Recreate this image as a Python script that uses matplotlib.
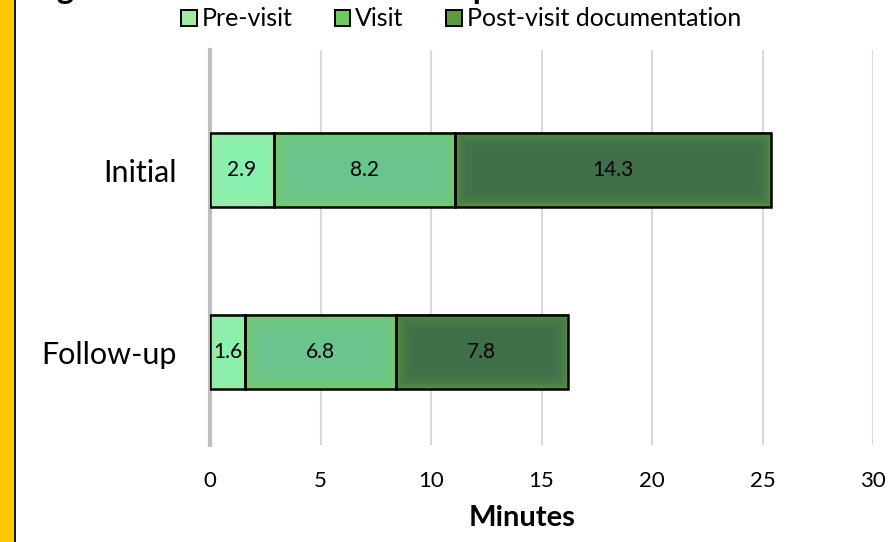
import numpy as np
import matplotlib.pyplot as plt
from matplotlib.colors import to_rgb
from matplotlib.patches import Rectangle, Patch

# Minutes per encounter, stacked by phase
categories = ["Follow-up", "Initial"]
segments = ["Pre-visit", "Visit", "Post-visit documentation"]
pre_visit = [1.6, 2.9]
visit = [6.8, 8.2]
post_visit = [7.8, 14.3]
x_ticks = [0, 5, 10, 15, 20, 25, 30]

# (center colour, edge glow colour, legend swatch colour)
styles = [
    ("#88F2B0", "#A2E8A0", "#A0EBA0"),
    ("#6AC48E", "#78CC58", "#70C860"),
    ("#3F6F4A", "#5C9640", "#5A9A40"),
]

plt.rcParams['font.family'] = ['Lato', 'DejaVu Sans']

W, H = 888, 542
fig = plt.figure(figsize=(W / 100, H / 100), dpi=100)
ax = fig.add_axes([210 / W, 1 - 445 / H, (873 - 210) / W, (445 - 50) / H])
ax.set_xlim(0, 30)
ax.set_ylim(-0.51, 1.66)


def glow_fill(ax, patch, center, edge, glow_px=6.0):
    # fill a bar with a colour that shades towards `edge` near its border
    x0, y0 = patch.get_x(), patch.get_y()
    w, h = patch.get_width(), patch.get_height()
    (px0, py0), (px1, py1) = ax.transData.transform([(x0, y0), (x0 + w, y0 + h)])
    nx = max(int(abs(px1 - px0)), 2)
    ny = max(int(abs(py1 - py0)), 2)
    xs = np.arange(nx) + 0.5
    ys = np.arange(ny) + 0.5
    dx = np.minimum(xs, nx - xs)
    dy = np.minimum(ys, ny - ys)
    d = np.minimum(dx[None, :], dy[:, None])
    t = np.exp(-d / glow_px)[..., None]
    img = np.array(to_rgb(center)) * (1 - t) + np.array(to_rgb(edge)) * t
    ax.imshow(img, extent=(x0, x0 + w, y0, y0 + h), aspect='auto',
              interpolation='bilinear', zorder=2)


ypos = np.arange(len(categories))
left = np.zeros(len(categories))
for values, (center, edge, _) in zip([pre_visit, visit, post_visit], styles):
    bars = ax.barh(ypos, values, left=left, height=0.41, facecolor='none',
                   edgecolor='black', linewidth=1.8, zorder=3)
    for patch, v in zip(bars, values):
        glow_fill(ax, patch, center, edge)
        ax.text(patch.get_x() + v / 2, patch.get_y() + patch.get_height() / 2,
                f"{v:.1f}", ha='center', va='center', fontsize=15,
                color='black', zorder=4)
    left += np.array(values)

ax.set_xlim(0, 30)
ax.set_ylim(-0.51, 1.66)
ax.set_xticks(x_ticks)
ax.set_yticks(ypos)
ax.set_yticklabels(categories)
ax.tick_params(axis='x', length=0, pad=19, labelsize=16)
ax.tick_params(axis='y', length=0, pad=24, labelsize=22)
ax.grid(axis='x', color='#D9D9D9', linewidth=1.5, zorder=0)
ax.set_axisbelow(True)
for side in ['top', 'right', 'bottom']:
    ax.spines[side].set_visible(False)
ax.spines['left'].set_color('#BFBFBF')
ax.spines['left'].set_linewidth(3)
ax.spines['left'].set_zorder(1)

ax.set_xlabel("Minutes", fontsize=21, fontweight='bold')
ax.xaxis.set_label_coords((522 - 210) / (873 - 210), (445 - 505) / (445 - 50))

handles = [Patch(facecolor=s[2], edgecolor='black', linewidth=1.4, label=lab)
           for s, lab in zip(styles, segments)]
fig.legend(handles=handles, loc='center', bbox_to_anchor=(461 / W, 1 - 19 / H),
           ncol=3, frameon=False, fontsize=18, handlelength=0.62, handleheight=0.62,
           handletextpad=0.2, columnspacing=1.7)

# title sits mostly above the top edge; only its descenders show
fig.text(30 / W, 1 + 1 / H, "Figure 2. Documentation time per visit",
         fontsize=23.5, fontweight='bold', ha='left', va='baseline')

# yellow side band with dark rule
fig.patches.append(Rectangle((0, 0), 14 / W, 1, transform=fig.transFigure,
                             facecolor='#FFC800', edgecolor='none'))
fig.patches.append(Rectangle((14 / W, 0), 2 / W, 1, transform=fig.transFigure,
                             facecolor='#1A1A1A', edgecolor='none'))

fig.savefig("out.png", dpi=100)
